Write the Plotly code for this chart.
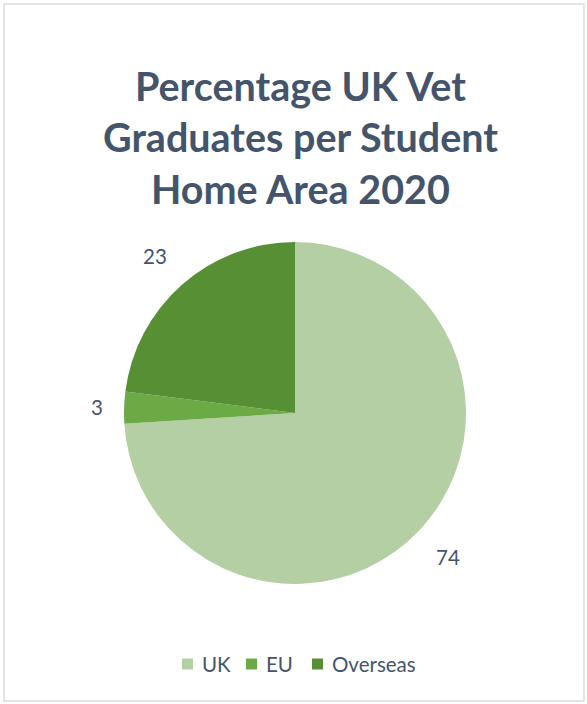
import math
import plotly.graph_objects as go

# Data
categories = ["UK", "EU", "Overseas"]
values = [74, 3, 23]
colors = ["#B3CFA3", "#6BAA45", "#578F35"]
title_lines = ["Percentage UK Vet", "Graduates per Student", "Home Area 2020"]

W, H = 587, 704
TEXT = "#44546A"
FONT = "Lato"

# Pie geometry in pixels
cx, cy, r = 295, 413, 171


def px(x):
    return x / W


def py(y):
    return 1 - y / H


fig = go.Figure(
    go.Pie(
        labels=categories,
        values=values,
        sort=False,
        direction="clockwise",
        rotation=0,
        marker=dict(colors=colors, line=dict(width=0)),
        textinfo="none",
        hoverinfo="label+value",
        domain=dict(x=[px(cx - r), px(cx + r)], y=[py(cy + r), py(cy - r)]),
        showlegend=False,
    )
)

annotations = []
shapes = []

# Title, one line per annotation for exact line spacing
for i, line in enumerate(title_lines):
    annotations.append(dict(
        text=f"<b>{line}</b>", x=px(300), y=py(85 + i * 51.5),
        xref="paper", yref="paper", xanchor="center", yanchor="middle",
        showarrow=False, font=dict(family=FONT, size=39.5, color=TEXT),
    ))

# Value labels outside each slice, anchored on the side facing the pie
total = sum(values)
cum = 0
for v in values:
    mid = (cum + v / 2) / total * 2 * math.pi
    cum += v
    d = 190
    s, c = math.sin(mid), math.cos(mid)
    lx = cx + d * s
    ly = cy - d * c
    if c > 0.5:
        ya = "bottom"
    elif c < -0.5:
        ya = "top"
    else:
        ya = "middle"
    annotations.append(dict(
        text=str(v), x=px(lx), y=py(ly), xref="paper", yref="paper",
        xanchor="left" if s > 0 else "right", yanchor=ya,
        showarrow=False, font=dict(family=FONT, size=20.5, color=TEXT),
    ))

# Legend row: colour square followed by the category name
legend_x = [182, 246, 312]
legend_y = 664
for name, col, lx in zip(categories, colors, legend_x):
    shapes.append(dict(
        type="rect", xref="paper", yref="paper",
        x0=px(lx), x1=px(lx + 11), y0=py(legend_y + 5.5), y1=py(legend_y - 5.5),
        fillcolor=col, line=dict(width=0),
    ))
    annotations.append(dict(
        text=name, x=px(lx + 18), y=py(legend_y), xref="paper", yref="paper",
        xanchor="left", yanchor="middle", showarrow=False,
        font=dict(family=FONT, size=20.5, color=TEXT),
    ))

# Outer chart border
shapes.append(dict(
    type="rect", xref="paper", yref="paper",
    x0=px(4), x1=px(584), y0=py(701), y1=py(4),
    line=dict(color="#D9DCE0", width=1.5),
))

fig.update_layout(
    width=W,
    height=H,
    margin=dict(l=0, r=0, t=0, b=0),
    paper_bgcolor="white",
    plot_bgcolor="white",
    showlegend=False,
    annotations=annotations,
    shapes=shapes,
)

fig.write_html("out.html")
